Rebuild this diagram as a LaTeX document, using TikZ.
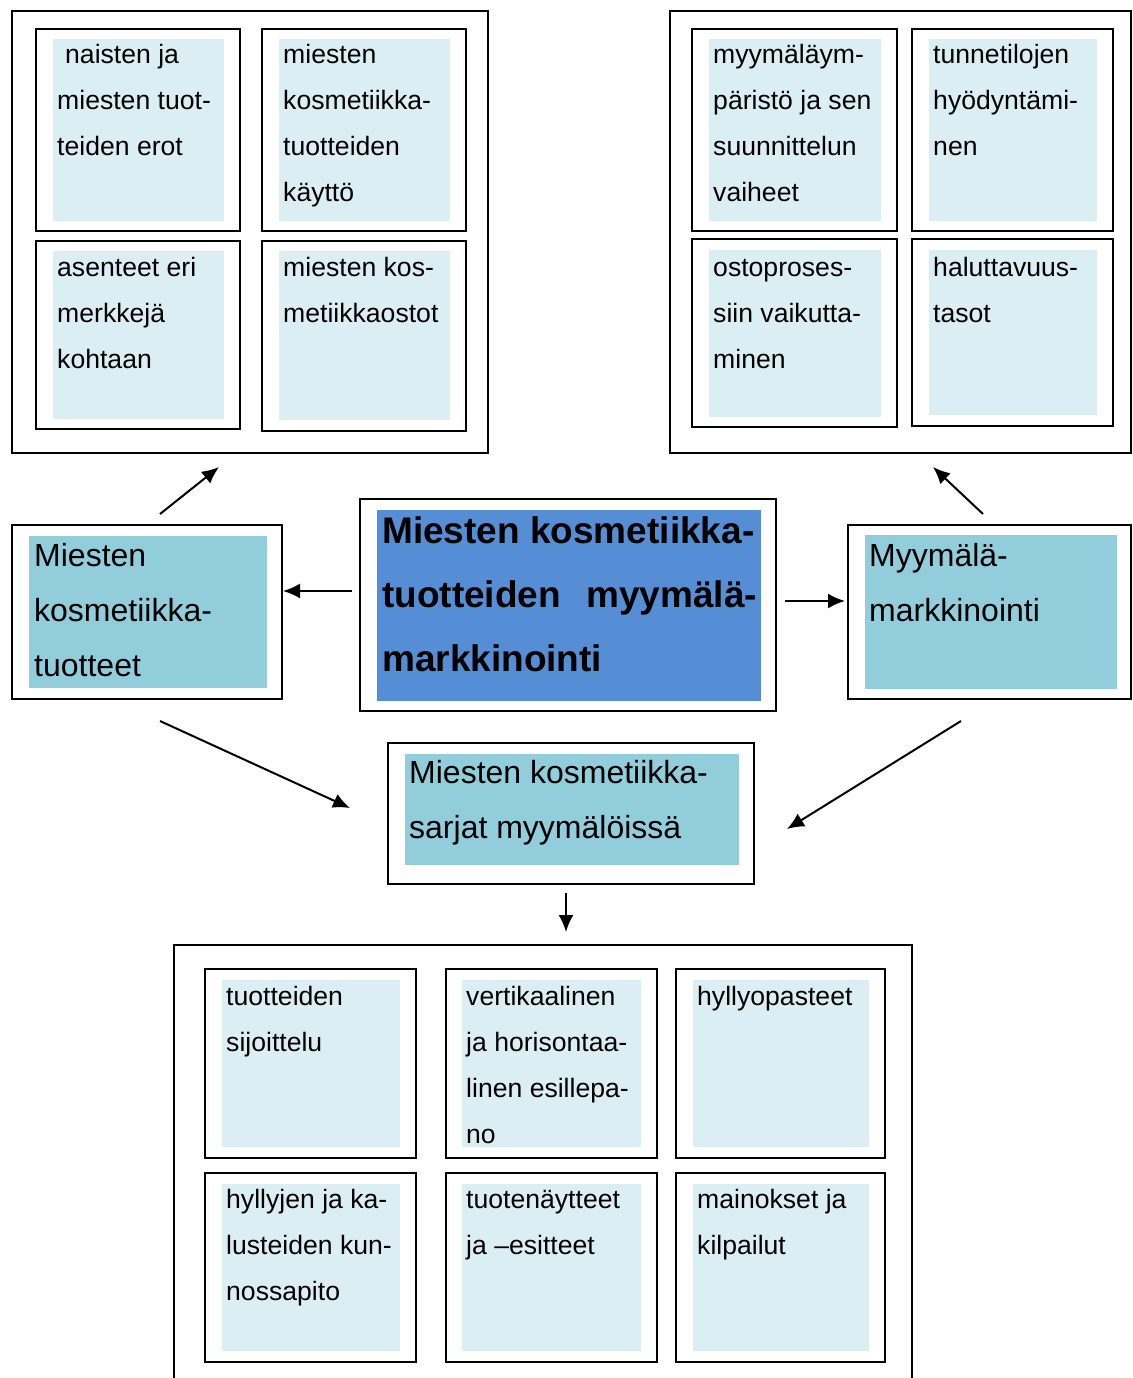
\documentclass[tikz,border=0pt]{standalone}
\usepackage{fontspec}
\setmainfont{Liberation Sans}
\usetikzlibrary{arrows.meta}
\definecolor{vaalea}{RGB}{219,238,243}
\definecolor{keski}{RGB}{146,205,220}
\definecolor{sininen}{RGB}{85,142,213}
\newcommand{\ylos}{\rule{0pt}{40pt}}
\tikzset{
  kehys/.style={draw=black, line width=2pt},
  pieni/.style={anchor=north west, inner sep=0pt, align=left,
    font=\fontsize{26.6}{46}\selectfont},
  keskikoko/.style={pieni, font=\fontsize{32}{55}\selectfont},
  otsikko/.style={pieni, font=\fontsize{37}{64}\selectfont\bfseries},
  nuoli/.style={line width=2pt, -{Latex[length=17pt,width=15pt]}}
}
\begin{document}
\begin{tikzpicture}[x=1pt, y=-1pt]
    \useasboundingbox (0,0) rectangle (1132,1378);
    % vasen ylaryhma
    \draw[kehys] (12,11) rectangle (488,453);
    \fill[vaalea] (53,39) rectangle (224,221);
    \fill[vaalea] (279,39) rectangle (450,221);
    \fill[vaalea] (53,251) rectangle (224,419);
    \fill[vaalea] (279,251) rectangle (450,420);
    \draw[kehys] (36,29) rectangle (240,231);
    \draw[kehys] (262,29) rectangle (466,231);
    \draw[kehys] (36,241) rectangle (240,429);
    \draw[kehys] (262,241) rectangle (466,431);
    \node[pieni] (erot) at (57,23) {\ylos\hspace{8pt}naisten ja\\miesten tuot-\\teiden erot};
    \node[pieni] (kaytto) at (283,23) {\ylos miesten\\kosmetiikka-\\tuotteiden\\käyttö};
    \node[pieni] (asenteet) at (57,236) {\ylos asenteet eri\\merkkejä\\kohtaan};
    \node[pieni] (ostot) at (283,236) {\ylos miesten kos-\\metiikkaostot};
    % oikea ylaryhma
    \draw[kehys] (670,11) rectangle (1131,453);
    \fill[vaalea] (709,39) rectangle (881,221);
    \fill[vaalea] (929,39) rectangle (1097,221);
    \fill[vaalea] (709,250) rectangle (881,417);
    \fill[vaalea] (929,250) rectangle (1097,415);
    \draw[kehys] (692,29) rectangle (897,231);
    \draw[kehys] (912,29) rectangle (1113,231);
    \draw[kehys] (692,239) rectangle (897,427);
    \draw[kehys] (912,239) rectangle (1113,426);
    \node[pieni] (ymparisto) at (713,23) {\ylos myymäläym-\\päristö ja sen\\suunnittelun\\vaiheet};
    \node[pieni] (tunteet) at (933,23) {\ylos tunnetilojen\\hyödyntämi-\\nen};
    \node[pieni] (ostoprosessi) at (713,236) {\ylos ostoproses-\\siin vaikutta-\\minen};
    \node[pieni] (halu) at (933,236) {\ylos haluttavuus-\\tasot};
    % keskirivi
    \fill[keski] (29,536) rectangle (267,688);
    \draw[kehys] (12,525) rectangle (282,699);
    \node[keskikoko] (tuotteet) at (34,526) {\ylos Miesten\\kosmetiikka-\\tuotteet};
    \fill[sininen] (377,510) rectangle (761,701);
    \draw[kehys] (360,499) rectangle (776,711);
    \node[otsikko] (aihe) at (382,503) {\ylos Miesten kosmetiikka-\\\makebox[375pt][s]{tuotteiden myymälä-}\\markkinointi};
    \fill[keski] (865,535) rectangle (1117,689);
    \draw[kehys] (848,525) rectangle (1131,699);
    \node[keskikoko] (markkinointi) at (869,526) {\ylos Myymälä-\\markkinointi};
    \fill[keski] (405,754) rectangle (739,865);
    \draw[kehys] (388,743) rectangle (754,884);
    \node[keskikoko] (sarjat) at (409,743) {\ylos Miesten kosmetiikka-\\sarjat myymälöissä};
    % alaryhma
    \draw[kehys] (174,945) rectangle (912,1400);
    \foreach \xa/\xb/\xc/\xd in {205/222/400/416, 446/462/641/657, 676/693/869/885} {
        \foreach \ya/\yb/\yc/\yd in {969/980/1147/1158, 1173/1184/1351/1362} {
            \fill[vaalea] (\xb,\yb) rectangle (\xc,\yc);
            \draw[kehys] (\xa,\ya) rectangle (\xd,\yd);
        }
    }
    \node[pieni] (sijoittelu) at (226,965) {\ylos tuotteiden\\sijoittelu};
    \node[pieni] (esillepano) at (466,965) {\ylos vertikaalinen\\ja horisontaa-\\linen esillepa-\\no};
    \node[pieni] (opasteet) at (697,965) {\ylos hyllyopasteet};
    \node[pieni] (kunnossapito) at (226,1168) {\ylos hyllyjen ja ka-\\lusteiden kun-\\nossapito};
    \node[pieni] (naytteet) at (466,1168) {\ylos tuotenäytteet\\ja –esitteet};
    \node[pieni] (mainokset) at (697,1168) {\ylos mainokset ja\\kilpailut};
    % nuolet
    \coordinate (v1) at (160,514);
    \coordinate (v2) at (219,467);
    \coordinate (o1) at (983,514);
    \coordinate (o2) at (933,467);
    \coordinate (k1) at (352,591);
    \coordinate (k2) at (283,591);
    \coordinate (k3) at (785,601);
    \coordinate (k4) at (845,601);
    \coordinate (a1) at (160,721);
    \coordinate (a2) at (350,808);
    \coordinate (b1) at (961,721);
    \coordinate (b2) at (787,829);
    \coordinate (c1) at (566,893);
    \coordinate (c2) at (566,932);
    \draw[nuoli] (v1) -- (v2);
    \draw[nuoli] (o1) -- (o2);
    \draw[nuoli] (k1) -- (k2);
    \draw[nuoli] (k3) -- (k4);
    \draw[nuoli] (a1) -- (a2);
    \draw[nuoli] (b1) -- (b2);
    \draw[nuoli] (c1) -- (c2);
\end{tikzpicture}
\end{document}
